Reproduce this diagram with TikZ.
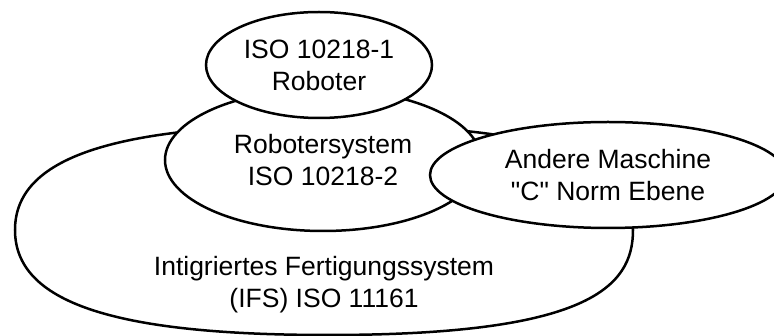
\documentclass[tikz,border=0pt]{standalone}
\usepackage{fontspec}
\setmainfont{Liberation Sans}
\usepackage{tikz}
\usetikzlibrary{shapes.geometric}
\tikzset{normell/.style = {ellipse, draw, fill=white, line width=2.5pt,
                           inner sep=0pt, align=center}}

\begin{document}
\begin{tikzpicture}[x=1pt, y=-1pt, font=\fontsize{26.5}{32}\selectfont]
      \path [use as bounding box, fill=white] (0, 0) rectangle (774, 336);

      \begin{scope}[shift={(328, 230)}, yscale=105]
        \path [draw, fill=white, line width=2.5pt] (305, 0) ..
        controls (305, 0.55) and (259, 1) .. (0, 1) ..
        controls (-215, 1) and (-313, 0.688) .. (-313, 0) ..
        controls (-313, -0.688) and (-215, -1) .. (0, -1) ..
        controls (259, -1) and (305, -0.55) .. (305, 0) -- cycle;
      \end{scope}
      \node [align=center] (ifs) at (324, 285)
        {Intigriertes Fertigungssystem\\(IFS) ISO 11161};

      \node [normell, minimum width=316pt, minimum height=142pt] (robsys)
        at (323, 160) {Robotersystem\\ISO 10218-2};
      \node [normell, minimum width=226pt, minimum height=106pt] (robot)
        at (319, 65) {ISO 10218-1\\Roboter};
      \node [normell, minimum width=356pt, minimum height=106pt] (andere)
        at (608, 175) {Andere Maschine\\\textquotedbl C\textquotedbl{} Norm Ebene};

    \end{tikzpicture}
\end{document}
